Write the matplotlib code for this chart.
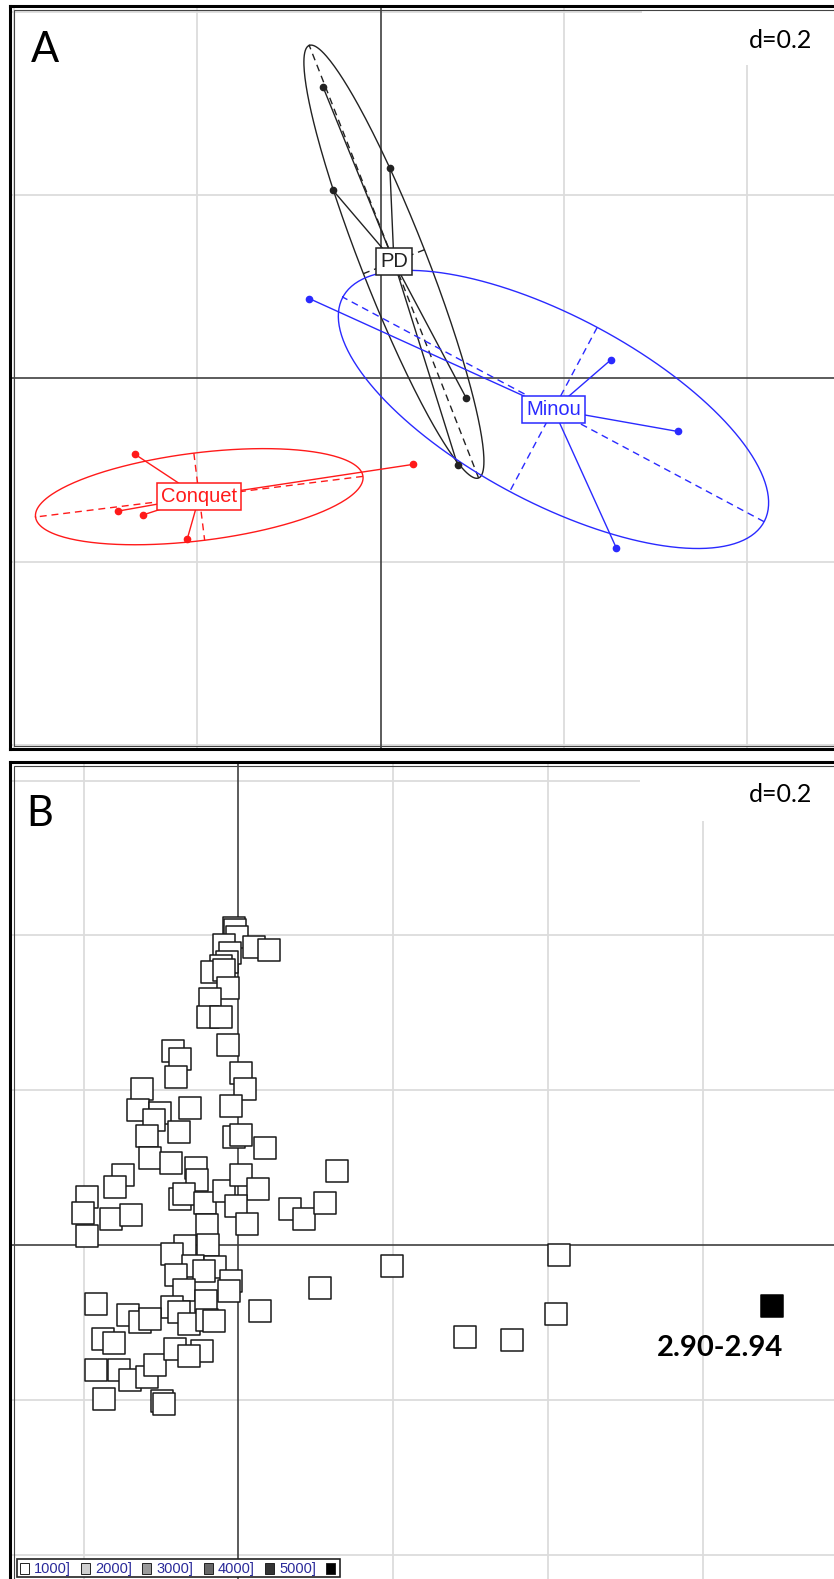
import numpy as np
import matplotlib
matplotlib.use('Agg')
import matplotlib.pyplot as plt
from matplotlib.patches import Rectangle

W, H = 834, 1579

# --- Panel A: site scores on the first factorial plane ---
pd_x = [-0.063, 0.010, -0.052, 0.093, 0.084]
pd_y = [0.318, 0.229, 0.205, -0.021, -0.095]
minou_x = [0.251, 0.324, 0.257, -0.078]
minou_y = [0.020, -0.058, -0.185, 0.087]
conquet_x = [-0.268, -0.287, -0.259, 0.035, -0.211]
conquet_y = [-0.083, -0.145, -0.149, -0.094, -0.175]
site_names = ['Conquet', 'PD', 'Minou']
site_colors = ['#FF1a1a', '#222222', '#2a2aff']

# --- Panel B: sample scores, all in the lowest class ---
b_x = [-0.006, -0.004, -0.002, 0.020, 0.039, -0.019, -0.011, -0.015, -0.022, -0.034,
       -0.019, -0.013, -0.036, -0.039, -0.022, -0.013, -0.084, -0.075, -0.080, 0.003,
       0.009, -0.124, -0.130, -0.101, -0.109, -0.062, -0.010, -0.077, -0.118, -0.006,
       0.003, 0.034, -0.114, -0.087, -0.149, -0.159, -0.195, -0.201, -0.195, -0.164,
       -0.139, -0.055, -0.054, -0.075, -0.070, -0.043, -0.019, 0.004, 0.026, -0.003,
       0.011, -0.041, 0.128, 0.067, 0.085, 0.112, -0.069, -0.039, -0.086, -0.058,
       -0.030, -0.044, -0.081, -0.009, -0.070, -0.042, -0.086, -0.077, -0.064, -0.040,
       -0.032, -0.012, -0.184, -0.143, -0.127, -0.114, 0.028, 0.105, 0.199, -0.175,
       -0.161, -0.184, -0.154, -0.140, -0.118, -0.108, -0.082, -0.047, -0.064, -0.174,
       -0.099, -0.096, 0.414, 0.293, 0.354, 0.410]
b_y = [0.409, 0.407, 0.398, 0.385, 0.381, 0.388, 0.377, 0.366, 0.360, 0.353,
       0.355, 0.332, 0.318, 0.295, 0.295, 0.258, 0.251, 0.240, 0.217, 0.222,
       0.202, 0.202, 0.175, 0.170, 0.161, 0.177, 0.179, 0.146, 0.141, 0.140,
       0.142, 0.125, 0.113, 0.106, 0.091, 0.075, 0.062, 0.041, 0.011, 0.034,
       0.039, 0.100, 0.084, 0.060, 0.066, 0.054, 0.070, 0.090, 0.072, 0.050,
       0.027, 0.026, 0.095, 0.046, 0.033, 0.054, -0.001, 0.000, -0.011, -0.027,
       -0.028, -0.033, -0.039, -0.047, -0.058, -0.072, -0.080, -0.087, -0.102, -0.097,
       -0.098, -0.060, -0.076, -0.091, -0.099, -0.095, -0.085, -0.056, -0.027, -0.122,
       -0.127, -0.161, -0.161, -0.174, -0.170, -0.155, -0.134, -0.137, -0.144, -0.199,
       -0.202, -0.205, -0.013, -0.119, -0.123, -0.089]
hl_x, hl_y = 0.690, -0.079
hl_label = '2.90-2.94'

legend_labels = ['1000]', '2000]', '3000]', '4000]', '5000]', '']
legend_greys = ['#ffffff', '#cfcfcf', '#9a9a9a', '#676767', '#333333', '#000000']

GRID = '#dcdcdc'
AXIS = '#404040'
CALIBRI = ['Lato', 'DejaVu Sans']
ARIAL = ['Liberation Sans', 'DejaVu Sans']

fig = plt.figure(figsize=(W / 100, H / 100), dpi=100)


def px_axes(x0, y0, x1, y1):
    return fig.add_axes([x0 / W, 1 - y1 / H, (x1 - x0) / W, (y1 - y0) / H])


def px_rect(x0, y0, x1, y1, **kw):
    r = Rectangle((x0 / W, 1 - y1 / H), (x1 - x0) / W, (y1 - y0) / H,
                  transform=fig.transFigure, **kw)
    fig.add_artist(r)
    return r


def base_panel(ax, xlim, ylim, ticks, box):
    ax.set_xlim(*xlim)
    ax.set_ylim(*ylim)
    ax.set_xticks([])
    ax.set_yticks([])
    for s in ax.spines.values():
        s.set_linewidth(2.2)
        s.set_color('black')
    for t in ticks:
        ax.axvline(t, color=GRID, lw=1.3, zorder=0)
        ax.axhline(t, color=GRID, lw=1.3, zorder=0)
    # blank corner behind the scale label
    ax.add_patch(Rectangle((box[0], box[1]), 5, 5, facecolor='white',
                           edgecolor='none', zorder=0.5))
    ax.axvline(0, color=AXIS, lw=1.2, zorder=1)
    ax.axhline(0, color=AXIS, lw=1.2, zorder=1)


def class_ellipse(ax, x, y, color, name, k=1.5):
    x = np.asarray(x)
    y = np.asarray(y)
    cx, cy = x.mean(), y.mean()
    vals, vecs = np.linalg.eigh(np.cov(x, y, bias=True))
    a, b = k * np.sqrt(vals[1]), k * np.sqrt(vals[0])
    v1, v2 = vecs[:, 1], vecs[:, 0]
    t = np.linspace(0, 2 * np.pi, 300)
    ex = cx + a * np.cos(t) * v1[0] + b * np.sin(t) * v2[0]
    ey = cy + a * np.cos(t) * v1[1] + b * np.sin(t) * v2[1]
    ax.plot(ex, ey, color=color, lw=1.0, zorder=3)
    for v, r in ((v1, a), (v2, b)):
        ax.plot([cx - r * v[0], cx + r * v[0]], [cy - r * v[1], cy + r * v[1]],
                color=color, lw=1.0, ls=(0, (5, 3.5)), zorder=3)
    for xi, yi in zip(x, y):
        ax.plot([cx, xi], [cy, yi], color=color, lw=1.0, zorder=3)
    ax.plot(x, y, 'o', color=color, ms=4.5, zorder=4)
    ax.text(cx, cy, name, ha='center', va='center', color=color, fontsize=14.5,
            family=ARIAL, zorder=5,
            bbox=dict(boxstyle='square,pad=0.2', fc='white', ec=color, lw=1.1))


# ---------------- Panel A ----------------
axA = px_axes(10, 6, 845, 749)
base_panel(axA, (-0.4045, 0.5066), (-0.4045, 0.4062),
           [-0.4, -0.2, 0.2, 0.4], (0.285, 0.342))
px_rect(13.5, 9.5, 850, 745.5, fill=False, ec='#444444', lw=0.8)
for xs, ys, c, n in zip([conquet_x, pd_x, minou_x], [conquet_y, pd_y, minou_y],
                        site_colors, site_names):
    class_ellipse(axA, xs, ys, c, n)
fig.text(45 / W, 1 - 62 / H, 'A', ha='center', va='baseline', fontsize=30,
         family=CALIBRI)
fig.text(781 / W, 1 - 48 / H, 'd=0.2', ha='center', va='baseline', fontsize=18,
         family=CALIBRI)

# ---------------- Panel B ----------------
axB = px_axes(10, 762, 845, 1590)
base_panel(axB, (-0.2950, 0.7838), (-0.4457, 0.6240),
           [-0.4, -0.2, 0.2, 0.4, 0.6], (0.519, 0.548))
px_rect(13.5, 765.5, 850, 1600, fill=False, ec='#444444', lw=0.8)
axB.scatter(b_x, b_y, marker='s', s=250, facecolor='white', edgecolor='#1a1a1a',
            linewidths=1.1, zorder=3)
axB.scatter([hl_x], [hl_y], marker='s', s=250, facecolor='black',
            edgecolor='black', linewidths=1.1, zorder=3)
axB.text(0.704, -0.143, hl_label, ha='right', va='baseline', fontsize=21,
         fontweight='bold', family=CALIBRI, zorder=4)
fig.text(40 / W, 1 - 826 / H, 'B', ha='center', va='baseline', fontsize=30,
         family=CALIBRI)
fig.text(781 / W, 1 - 802 / H, 'd=0.2', ha='center', va='baseline', fontsize=18,
         family=CALIBRI)

# class legend along the bottom edge
px_rect(17, 1559, 340, 1577, facecolor='white', edgecolor='#222222', lw=1.2,
        zorder=5)
sq_left = [20, 81, 142, 204, 265, 326]
for i, (lab, g) in enumerate(zip(legend_labels, legend_greys)):
    s0 = sq_left[i]
    px_rect(s0, 1563, s0 + 9, 1574, facecolor=g, edgecolor='#222222', lw=0.7,
            zorder=6)
    if lab:
        fig.text((s0 + 14) / W, 1 - 1568.5 / H, lab, ha='left', va='center',
                 fontsize=10.5, color='#2a2a9a', family=ARIAL, zorder=6)

fig.savefig('out.png', dpi=100, facecolor='white')
